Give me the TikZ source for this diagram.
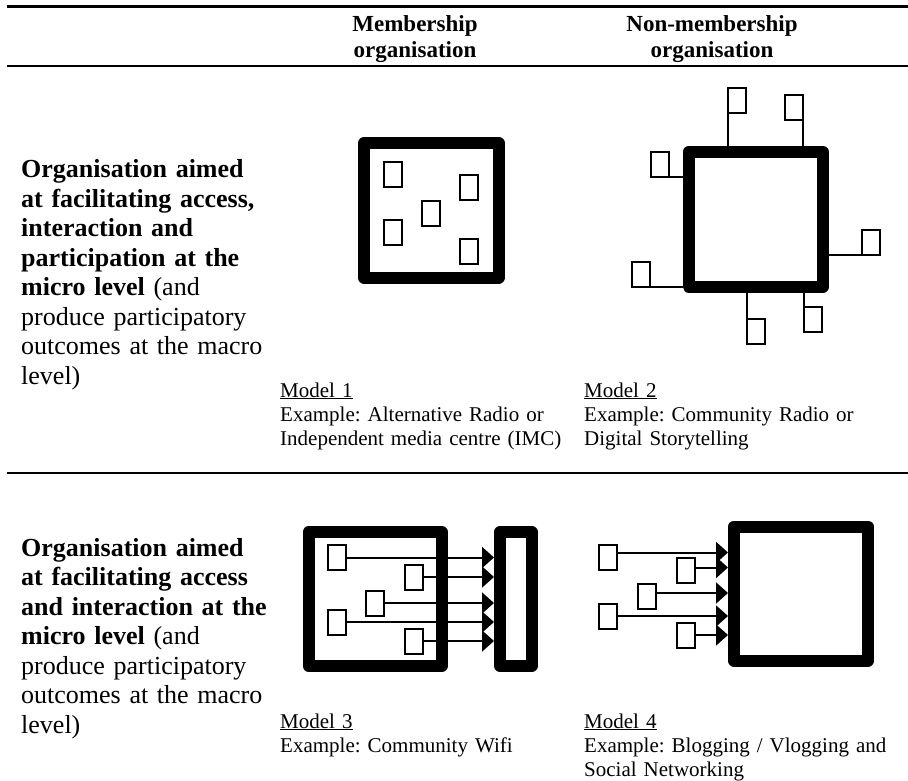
\documentclass[tikz,border=0pt]{standalone}
\usepackage{fontspec}
\setmainfont{Liberation Serif}
\usetikzlibrary{arrows.meta}
\frenchspacing
\begin{document}
\begin{tikzpicture}[x=1pt,y=-1pt,
  bigbox/.style={draw, line width=12pt, line join=round, inner sep=0pt},
  unit/.style={draw, line width=2pt, minimum width=18pt, minimum height=25pt, inner sep=0pt, outer sep=0pt},
  link/.style={line width=2pt},
  arr/.style={line width=2pt, -{Triangle[length=12pt,width=21pt]}},
  rulel/.style={line width=2.3pt},
  hdr/.style={font=\fontsize{23}{26.5}\selectfont\bfseries, align=center, text width=220pt, inner sep=0pt, anchor=base},
  rowlab/.style={font=\fontsize{26}{29.5}\selectfont, align=left, text width=262pt, inner sep=0pt, anchor=base west},
  captxt/.style={font=\fontsize{21}{24}\selectfont, align=left, text width=320pt, inner sep=0pt, anchor=base west}
]
\useasboundingbox (0,0) rectangle (908,781);
% rules
\coordinate (ruleA1) at (7,6.5);   \coordinate (ruleA2) at (908,6.5);
\coordinate (ruleB1) at (7,66);    \coordinate (ruleB2) at (908,66);
\coordinate (ruleC1) at (7,473);   \coordinate (ruleC2) at (908,473);
\draw[rulel] (ruleA1) -- (ruleA2);
\draw[rulel] (ruleB1) -- (ruleB2);
\draw[rulel] (ruleC1) -- (ruleC2);
% headers
\node[hdr] (h1) at (415,31.5) {Membership\\organisation};
\node[hdr] (h2) at (712,31.5) {Non-membership\\organisation};
% row labels
\node[rowlab] (r1) at (21,178) {\textbf{Organisation aimed}\\\textbf{at facilitating access,}\\\textbf{interaction and}\\\textbf{participation at the}\\\textbf{micro level} (and\\produce participatory\\outcomes at the macro\\level)};
\node[rowlab] (r2) at (21,556) {\textbf{Organisation aimed}\\\textbf{at facilitating access}\\\textbf{and interaction at the}\\\textbf{micro level} (and\\produce participatory\\outcomes at the macro\\level)};
% captions
\node[captxt] (c1) at (280,397) {\underline{Model 1}\\Example: Alternative Radio or\\Independent media centre (IMC)};
\node[captxt] (c2) at (584,397) {\underline{Model 2}\\Example: Community Radio or\\Digital Storytelling};
\node[captxt] (c3) at (280,728) {\underline{Model 3}\\Example: Community Wifi};
\node[captxt] (c4) at (584,728) {\underline{Model 4}\\Example: Blogging / Vlogging and\\Social Networking};
% Model 1
\node[bigbox, minimum width=134.5pt, minimum height=134.5pt] (m1) at (431.25,210.25) {};
\node[unit] (m1a) at (393,174.5) {};
\node[unit] (m1b) at (469,187.5) {};
\node[unit] (m1c) at (431,213) {};
\node[unit] (m1d) at (393,232.5) {};
\node[unit] (m1e) at (469,251.5) {};
% Model 2
\node[bigbox, minimum width=134.5pt, minimum height=134.5pt] (m2) at (755.75,219.25) {};
\node[unit] (m2t1) at (737,100.5) {};
\node[unit] (m2t2) at (794,107.5) {};
\node[unit] (m2l1) at (660,165) {};
\node[unit] (m2r1) at (871,242) {};
\node[unit] (m2l2) at (641,274) {};
\node[unit] (m2b1) at (756,331.5) {};
\node[unit] (m2b2) at (813,319) {};
\draw[link] (m2t1.south west) -- (m2t1.south west |- m2.north);
\draw[link] (m2t2.south east) -- (m2t2.south east |- m2.north);
\draw[link] (m2l1.south east) -- (m2l1.south east -| m2.west);
\draw[link] (m2r1.south west) -- (m2r1.south west -| m2.east);
\draw[link] (m2l2.south east) -- (m2l2.south east -| m2.west);
\draw[link] (m2b1.north west) -- (m2b1.north west |- m2.south);
\draw[link] (m2b2.north west) -- (m2b2.north west |- m2.south);
% Model 3
\node[bigbox, minimum width=133pt, minimum height=134pt] (m3) at (375,599) {};
\node[bigbox, minimum width=31.5pt, minimum height=134pt] (m3r) at (515.75,599) {};
\node[unit] (m3a) at (337,557.5) {};
\node[unit] (m3b) at (413.5,577) {};
\node[unit] (m3c) at (375,603) {};
\node[unit] (m3d) at (337,622) {};
\node[unit] (m3e) at (413.5,641) {};
\foreach \u in {m3a,m3b,m3c,m3d,m3e}
  \draw[arr] (\u.east) -- (\u.east -| m3r.west);
% Model 4
\node[bigbox, minimum width=134pt, minimum height=134pt] (m4) at (801,593.5) {};
\node[unit] (m4a) at (608,557.5) {};
\node[unit] (m4b) at (685.5,570.5) {};
\node[unit] (m4c) at (647,596) {};
\node[unit] (m4d) at (608,616) {};
\node[unit] (m4e) at (685.5,635) {};
\draw[arr] ([yshift=5pt]m4a.east) -- ([yshift=5pt]m4a.east -| m4.west);
\draw[arr] ([yshift=3pt]m4b.east) -- ([yshift=3pt]m4b.east -| m4.west);
\draw[arr] ([yshift=3pt]m4c.east) -- ([yshift=3pt]m4c.east -| m4.west);
\draw[arr] (m4d.east) -- (m4d.east -| m4.west);
\draw[arr] (m4e.east) -- (m4e.east -| m4.west);
\end{tikzpicture}
\end{document}
